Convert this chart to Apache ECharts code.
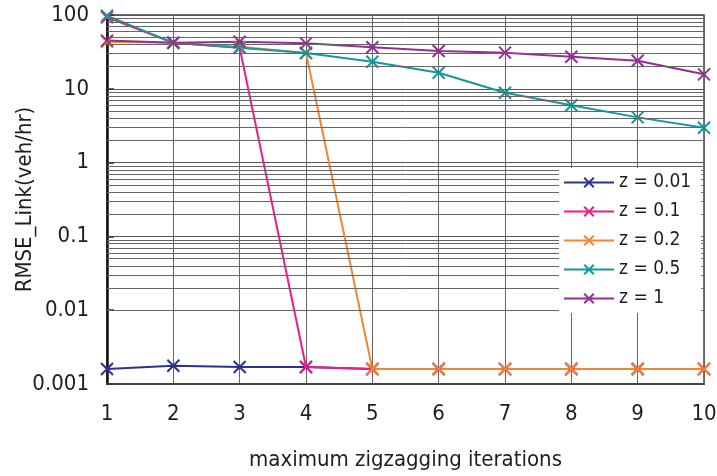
<!DOCTYPE html>
<html>
<head>
<meta charset="utf-8">
<script src="https://cdn.jsdelivr.net/npm/echarts@6/dist/echarts.min.js"></script>
<style>
  html, body { margin: 0; padding: 0; background: #fff; }
  #chart { width: 717px; height: 476px; }
</style>
</head>
<body>
<div id="chart"></div>
<script>
// Iteration counts on the x axis
const iterations = [1, 2, 3, 4, 5, 6, 7, 8, 9, 10];

// RMSE per link (veh/hr) for each z setting
const rmseZ001 = [0.0016, 0.00177, 0.0017, 0.0017, 0.0016, 0.0016, 0.0016, 0.0016, 0.0016, 0.0016];
const rmseZ01  = [93, 42, 36, 0.0017, 0.0016, 0.0016, 0.0016, 0.0016, 0.0016, 0.0016];
const rmseZ02  = [43.5, 42, 37, 30.5, 0.0016, 0.0016, 0.0016, 0.0016, 0.0016, 0.0016];
const rmseZ05  = [98, 42, 36, 30.5, 23.3, 16.5, 8.85, 6.0, 4.1, 2.97];
const rmseZ1   = [45, 42.2, 43.5, 41.3, 36.5, 32.6, 30.9, 27.2, 24.0, 15.7];

const seriesNames = ['z = 0.01', 'z = 0.1', 'z = 0.2', 'z = 0.5', 'z = 1'];
const seriesColors = ['#2e3192', '#ec1c8c', '#f7842f', '#0f9a9c', '#922f91'];
const seriesValues = [rmseZ001, rmseZ01, rmseZ02, rmseZ05, rmseZ1];

// Decade ticks of the log axis
const yTickLabels = ['0.001', '0.01', '0.1', '1', '10', '100'];

// Minor log grid lines: 2..9 within every decade
const minorGridValues = [];
for (let d = -3; d < 2; d++) {
  for (let m = 2; m <= 9; m++) minorGridValues.push(+(m * Math.pow(10, d)).toPrecision(3));
}

// Prefer the condensed DejaVu face when it is installed
function fontAvailable(name) {
  const ctx = document.createElement('canvas').getContext('2d');
  const sample = 'maximum zigzagging 0.001';
  ctx.font = '40px monospace';
  const base = ctx.measureText(sample).width;
  ctx.font = "40px '" + name + "', monospace";
  return Math.abs(ctx.measureText(sample).width - base) > 0.5;
}
const hasCondensed = fontAvailable('DejaVu Sans Condensed');
const FONT = hasCondensed ? 'DejaVu Sans Condensed' : 'Liberation Sans';
const TICK_SIZE = 22;
const TITLE_SIZE = 22;
const LEGEND_SIZE = 19;
const TEXT_COLOR = '#1e1e1e';

const crossSymbol = 'path://M0,0L10,10M10,0L0,10';

const lineSeries = seriesNames.map((name, i) => ({
  name: name,
  type: 'line',
  z: 3,
  data: iterations.map((x, k) => [x, seriesValues[i][k]]),
  symbol: crossSymbol,
  symbolSize: 12,
  showAllSymbol: true,
  lineStyle: { color: seriesColors[i], width: 2 },
  itemStyle: { color: seriesColors[i], borderColor: seriesColors[i], borderWidth: 2 },
  emphasis: { disabled: true },
  animation: false
}));

// Invisible carrier series for the minor grid lines
const gridSeries = {
  name: 'minor-grid',
  type: 'line',
  z: 1,
  data: [],
  silent: true,
  markLine: {
    silent: true,
    symbol: ['none', 'none'],
    label: { show: false },
    animation: false,
    lineStyle: { color: '#666', width: 1, type: 'solid' },
    emphasis: { disabled: true },
    data: minorGridValues.map(v => ({ yAxis: v }))
  }
};

const chart = echarts.init(document.getElementById('chart'), null, { renderer: 'canvas' });
chart.setOption({
  animation: false,
  backgroundColor: '#ffffff',
  textStyle: { fontFamily: FONT, color: TEXT_COLOR },
  grid: {
    left: 107, right: 13, top: 15, bottom: 92,
    show: true, borderColor: '#444', borderWidth: 1.5,
    containLabel: false,
    outerBoundsMode: 'none'
  },
  legend: {
    data: seriesNames,
    orient: 'vertical',
    left: 559, top: 168,
    z: 10,
    backgroundColor: '#ffffff',
    padding: [5, 10, 5, 4],
    itemWidth: 50, itemHeight: 12,
    itemGap: 10,
    textStyle: { fontFamily: FONT, fontSize: LEGEND_SIZE, color: TEXT_COLOR }
  },
  xAxis: {
    type: 'value',
    min: 1, max: 10, interval: 1,
    name: 'maximum zigzagging iterations',
    nameLocation: 'middle',
    nameGap: 65,
    nameMoveOverlap: false,
    nameTextStyle: { fontFamily: FONT, fontSize: TITLE_SIZE, color: TEXT_COLOR },
    axisLine: { show: true, lineStyle: { color: '#444', width: 2 } },
    axisTick: { show: false },
    axisLabel: { fontFamily: FONT, fontSize: TICK_SIZE, color: TEXT_COLOR, margin: 19 },
    splitLine: { show: true, lineStyle: { color: '#666', width: 1 } }
  },
  yAxis: {
    type: 'log',
    logBase: 10,
    min: 0.001, max: 100,
    name: 'RMSE_Link(veh/hr)',
    nameLocation: 'middle',
    nameGap: 71,
    nameRotate: 90,
    nameMoveOverlap: false,
    nameTextStyle: { fontFamily: FONT, fontSize: TITLE_SIZE, color: TEXT_COLOR },
    axisLine: { show: true, lineStyle: { color: '#111', width: 2.5 } },
    axisTick: { show: true, inside: true, length: 7, lineStyle: { color: '#333', width: 1.5 } },
    axisLabel: {
      fontFamily: FONT, fontSize: TICK_SIZE, color: TEXT_COLOR, margin: 18,
      formatter: v => {
        const idx = Math.round(Math.log10(v)) + 3;
        return yTickLabels[idx] !== undefined ? yTickLabels[idx] : '';
      }
    },
    splitLine: { show: true, lineStyle: { color: '#555', width: 1 } }
  },
  series: [gridSeries].concat(lineSeries)
});
</script>
</body>
</html>
